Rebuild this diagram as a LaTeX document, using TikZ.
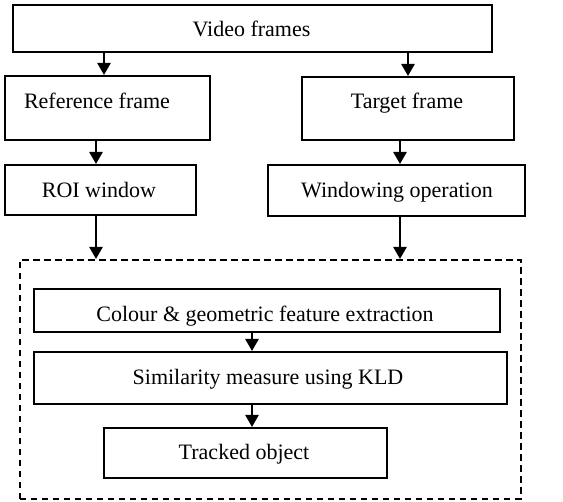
\documentclass[tikz,border=0pt]{standalone}
\usepackage{fontspec}
\setmainfont{Liberation Serif}
\usetikzlibrary{arrows.meta}
\begin{document}
\begin{tikzpicture}[x=1pt,y=-1pt,
  box/.style={draw=black,line width=2pt,rectangle,inner sep=0pt,anchor=north west,fill=white},
  dzbox/.style={draw=black,line width=1.8pt,dash pattern=on 6.5pt off 4.5pt,rectangle,inner sep=0pt,anchor=north west},
  txt/.style={font=\fontsize{22}{24}\selectfont,inner sep=0pt,anchor=base},
  arr/.style={line width=2.4pt,-{Triangle[length=12pt,width=13pt]}}]
\useasboundingbox[fill=white] (0,0) rectangle (563,502);
% boxes
\node[box,minimum width=479pt,minimum height=47pt] (vf) at (12,4) {};
\node[box,minimum width=205pt,minimum height=64pt] (rf) at (4,75) {};
\node[box,minimum width=212pt,minimum height=63pt] (tf) at (301,76) {};
\node[box,minimum width=191pt,minimum height=50pt] (roi) at (4,164) {};
\node[box,minimum width=257pt,minimum height=51pt] (wo) at (267,164) {};
\node[dzbox,minimum width=501pt,minimum height=239pt] (dz) at (19,259) {};
\node[box,minimum width=466pt,minimum height=43pt] (ce) at (33,288) {};
\node[box,minimum width=473pt,minimum height=52pt] (sm) at (33,351) {};
\node[box,minimum width=283pt,minimum height=50pt] (to) at (103,427) {};
% texts
\node[txt] (vft) at (251.5,37) {Video frames};
\node[txt] (rft) at (97,109) {Reference frame};
\node[txt] (tft) at (407,109) {Target frame};
\node[txt] (roit) at (99,198) {ROI window};
\node[txt] (wot) at (397,198) {Windowing operation};
\node[txt] (cet) at (265,322) {Colour \& geometric feature extraction};
\node[txt] (smt) at (268,384.5) {Similarity measure using KLD};
\node[txt] (tot) at (244,460) {Tracked object};
% column coordinates
\coordinate (c1) at (104,0);
\coordinate (c2) at (408,0);
\coordinate (c3) at (96,0);
\coordinate (c4) at (400,0);
\coordinate (c5) at (252,0);
% arrows
\draw[arr] (vf.south -| c1) -- (rf.north -| c1);
\draw[arr] (vf.south -| c2) -- (tf.north -| c2);
\draw[arr] (rf.south -| c3) -- (roi.north -| c3);
\draw[arr] (tf.south -| c4) -- (wo.north -| c4);
\draw[arr] (roi.south -| c3) -- (dz.north -| c3);
\draw[arr] (wo.south -| c4) -- (dz.north -| c4);
\draw[arr] (ce.south -| c5) -- (sm.north -| c5);
\draw[arr] (sm.south -| c5) -- (to.north -| c5);
\end{tikzpicture}
\end{document}
